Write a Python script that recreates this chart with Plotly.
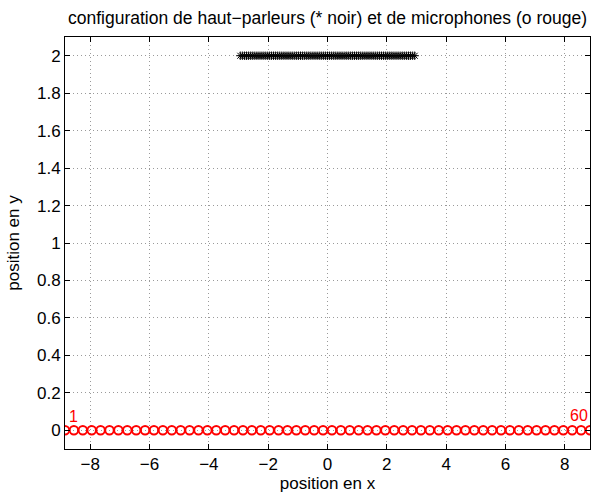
import plotly.graph_objects as go

# Data
mic_x = [round(-8.85 + 0.3 * i, 2) for i in range(60)]
mic_y = [0.0] * 60
spk_x = [round(-2.94 + 0.07 * i, 2) for i in range(85)]
spk_y = [2.0] * 85
x_ticks = [-8, -6, -4, -2, 0, 2, 4, 6, 8]
y_ticks = [0, 0.2, 0.4, 0.6, 0.8, 1, 1.2, 1.4, 1.6, 1.8, 2]
labels = ["1", "60"]

font = "Liberation Sans, Arial, sans-serif"
FS = 17

fig = go.Figure()
fig.add_trace(go.Scatter(x=spk_x, y=spk_y, mode="markers",
                         marker=dict(symbol="asterisk-open", size=7, color="black",
                                     line=dict(color="black", width=1)),
                         showlegend=False))
fig.add_trace(go.Scatter(x=mic_x, y=mic_y, mode="markers",
                         marker=dict(symbol="circle-open", size=8.5, color="red",
                                     line=dict(color="red", width=2)),
                         showlegend=False))

fig.add_annotation(x=mic_x[0], y=0.0, text=labels[0], showarrow=False,
                   xanchor="left", yanchor="bottom", xshift=2, yshift=3,
                   font=dict(family=font, size=16, color="red"))
fig.add_annotation(x=mic_x[-1], y=0.02, text=labels[1], showarrow=False,
                   xanchor="right", yanchor="bottom", xshift=0, yshift=1,
                   font=dict(family=font, size=16, color="red"))

axis_common = dict(showline=True, linecolor="black", linewidth=1, mirror="ticks",
                   ticks="inside", ticklen=5, tickcolor="black",
                   showgrid=True, gridcolor="#9a9a9a", griddash="1px,3px", gridwidth=1,
                   zeroline=False, tickfont=dict(family=font, size=FS, color="black"))

fig.update_xaxes(range=[-8.85, 8.85], tickvals=x_ticks,
                 ticktext=[("\u2212" + str(-v)) if v < 0 else str(v) for v in x_ticks],
                 title=dict(text="position en x", font=dict(family=font, size=FS, color="black"), standoff=0),
                 **axis_common)
fig.update_yaxes(range=[-0.1, 2.1], tickvals=y_ticks,
                 ticktext=[("%g" % v) for v in y_ticks],
                 title=dict(text="position en y", font=dict(family=font, size=FS, color="black"), standoff=13),
                 **axis_common)

fig.update_layout(
    width=607, height=497,
    margin=dict(l=65, r=17, t=37, b=48),
    plot_bgcolor="white", paper_bgcolor="white",
    title=dict(text="configuration de haut\u2212parleurs (* noir) et de microphones (o rouge)",
               x=0.5, xref="paper", xanchor="center", y=1 - 18 / 497, yanchor="middle",
               font=dict(family=font, size=17.5, color="black")),
)

fig.write_html("out.html")
